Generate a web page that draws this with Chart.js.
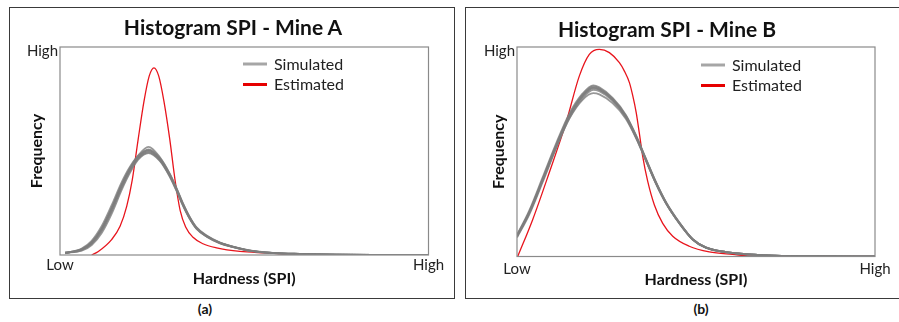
<!DOCTYPE html>
<html>
<head>
<meta charset="utf-8">
<script src="https://cdn.jsdelivr.net/npm/chart.js@4/dist/chart.umd.min.js"></script>
<style>
  html, body { margin: 0; padding: 0; background: #fff; }
  body { width: 899px; height: 322px; position: relative; overflow: hidden; font-family: Lato, "Open Sans", sans-serif; }
  .panel { position: absolute; border: 1.5px solid #3a3a3a; box-sizing: border-box; }
  .panel canvas { position: absolute; left: 0; top: 0; }
  .title { position: absolute; font-weight: bold; font-size: 21px; line-height: 1; color: #111; white-space: nowrap; transform: translateX(-50%); }
  .cap { position: absolute; font-weight: bold; font-size: 14px; color: #111; transform: translateX(-50%); }
</style>
</head>
<body>
<div class="panel" id="pa" style="left:9px;top:7px;width:446px;height:292px;"><canvas id="ca"></canvas></div>
<div class="panel" id="pb" style="left:465px;top:7px;width:436px;height:292px;"><canvas id="cb"></canvas></div>
<div class="title" style="left:233px;top:16px;">Histogram SPI - Mine A</div>
<div class="title" style="left:667px;top:18px;">Histogram SPI - Mine B</div>
<div class="cap" style="left:205px;top:300px;">(a)</div>
<div class="cap" style="left:701px;top:300px;">(b)</div>
<script>
// Hardness axis runs 0 (Low) .. 100 (High); frequency 0 .. 1 (High)
const xTickLabels = ['Low', 'High'];
const yTickLabels = ['High'];

// Mine A – simulated realisations (shared hardness positions)
const simXA = [1.4, 5.9, 8.6, 11.3, 14.0, 16.7, 19.0, 21.2, 24.0, 27.1, 29.8, 31.6, 33.4, 35.2, 37.0, 39.8, 43.4, 47.0, 51.5, 57.8, 65, 75, 85, 100];
const simA1 = [0.010, 0.026, 0.058, 0.122, 0.218, 0.330, 0.410, 0.467, 0.500, 0.459, 0.382, 0.315, 0.241, 0.178, 0.130, 0.090, 0.058, 0.039, 0.021, 0.010, 0.005, 0.001, 0, 0];
const simA2 = [0.008, 0.031, 0.068, 0.138, 0.238, 0.348, 0.424, 0.476, 0.508, 0.466, 0.389, 0.322, 0.247, 0.183, 0.134, 0.093, 0.060, 0.040, 0.022, 0.010, 0.005, 0.001, 0, 0];
const simA3 = [0.012, 0.021, 0.048, 0.106, 0.198, 0.312, 0.396, 0.458, 0.490, 0.452, 0.376, 0.309, 0.236, 0.174, 0.127, 0.088, 0.056, 0.038, 0.020, 0.009, 0.004, 0.001, 0, 0];
const simA4 = [0.010, 0.028, 0.062, 0.128, 0.226, 0.338, 0.418, 0.478, 0.520, 0.470, 0.390, 0.320, 0.244, 0.180, 0.131, 0.091, 0.059, 0.039, 0.021, 0.010, 0.005, 0.001, 0, 0];
const simA5 = [0.009, 0.024, 0.054, 0.116, 0.210, 0.322, 0.404, 0.463, 0.494, 0.455, 0.379, 0.312, 0.239, 0.176, 0.128, 0.089, 0.057, 0.038, 0.020, 0.009, 0.004, 0.001, 0, 0];
const simA6 = [0.011, 0.027, 0.060, 0.125, 0.222, 0.334, 0.413, 0.470, 0.504, 0.462, 0.385, 0.318, 0.243, 0.179, 0.131, 0.091, 0.058, 0.039, 0.021, 0.010, 0.005, 0.001, 0, 0];
// Mine A – estimated
const estXA = [8.6, 10.4, 14.0, 16.3, 18.1, 19.6, 21.2, 22.8, 24.2, 25.5, 26.8, 28.2, 29.8, 31.2, 32.6, 34.1, 36.1, 38.8, 42.5, 48.8, 56, 65, 78, 100];
const estA  = [0, 0.017, 0.074, 0.138, 0.234, 0.360, 0.555, 0.740, 0.860, 0.900, 0.860, 0.740, 0.555, 0.363, 0.215, 0.135, 0.085, 0.054, 0.034, 0.017, 0.010, 0.001, 0, 0];

// Mine B – simulated realisations
const simXB = [0, 3.4, 7.2, 10.9, 14.6, 18.3, 21.3, 23.0, 26.7, 30.4, 33.2, 36.0, 38.8, 41.6, 45.3, 49.1, 52.8, 58.4, 64.9, 72, 83.5, 100];
const simB1 = [0.097, 0.209, 0.368, 0.527, 0.670, 0.766, 0.806, 0.798, 0.750, 0.670, 0.575, 0.463, 0.352, 0.257, 0.161, 0.081, 0.042, 0.021, 0.010, 0.004, 0.001, 0];
const simB2 = [0.103, 0.218, 0.379, 0.538, 0.681, 0.777, 0.817, 0.807, 0.757, 0.676, 0.580, 0.467, 0.356, 0.260, 0.163, 0.082, 0.043, 0.021, 0.010, 0.004, 0.001, 0];
const simB3 = [0.091, 0.200, 0.357, 0.516, 0.660, 0.756, 0.796, 0.789, 0.743, 0.664, 0.570, 0.459, 0.348, 0.254, 0.159, 0.080, 0.041, 0.020, 0.009, 0.004, 0.001, 0];
const simB4 = [0.098, 0.208, 0.364, 0.520, 0.658, 0.748, 0.780, 0.774, 0.732, 0.658, 0.568, 0.459, 0.350, 0.256, 0.161, 0.082, 0.042, 0.021, 0.010, 0.004, 0.001, 0];
const simB5 = [0.095, 0.206, 0.366, 0.525, 0.668, 0.765, 0.804, 0.796, 0.748, 0.668, 0.573, 0.462, 0.351, 0.256, 0.160, 0.081, 0.042, 0.021, 0.010, 0.004, 0.001, 0];
const simB6 = [0.100, 0.212, 0.371, 0.530, 0.674, 0.772, 0.812, 0.803, 0.753, 0.672, 0.577, 0.465, 0.354, 0.258, 0.162, 0.082, 0.042, 0.021, 0.010, 0.004, 0.001, 0];
// Mine B – estimated
const estXB = [0.2, 4.4, 9.0, 13.7, 17.4, 20.2, 23.0, 25.8, 28.6, 30.0, 31.4, 32.3, 33.3, 34.2, 35.1, 36.5, 38.4, 40.7, 43.5, 48.1, 53.7, 60.2, 66.8, 80, 100];
const estB  = [0, 0.177, 0.400, 0.639, 0.861, 0.965, 0.989, 0.973, 0.925, 0.885, 0.830, 0.770, 0.687, 0.585, 0.479, 0.360, 0.245, 0.158, 0.097, 0.049, 0.022, 0.010, 0.001, 0, 0];

const GRAY = 'rgba(125,125,125,0.8)';
const RED = '#e8141c';
const FONT = 'Lato, "Open Sans", sans-serif';

function pts(xs, ys) { return xs.map((x, i) => ({ x: x, y: ys[i] })); }

function simSet(xs, ys) {
  return { label: 'Simulated', data: pts(xs, ys), borderColor: GRAY, borderWidth: 1.9,
           pointRadius: 0, cubicInterpolationMode: 'monotone', fill: false };
}
function estSet(xs, ys) {
  return { label: 'Estimated', data: pts(xs, ys), borderColor: RED, borderWidth: 1.3,
           pointRadius: 0, cubicInterpolationMode: 'monotone', fill: false };
}

// frame around the plot area and a two-entry legend
const framePlugin = {
  id: 'frame',
  afterDraw(chart, args, opts) {
    const { ctx, chartArea: a } = chart;
    ctx.save();
    ctx.strokeStyle = '#8a8a8a';
    ctx.lineWidth = 1.2;
    ctx.strokeRect(a.left, a.top, a.right - a.left, a.bottom - a.top);
    const entries = [['Simulated', '#a6a6a6'], ['Estimated', '#e60000']];
    ctx.font = '16px ' + FONT;
    ctx.textBaseline = 'middle';
    entries.forEach((e, i) => {
      const y = a.top + opts.dy + i * 20.5;
      const x = a.left + opts.dx;
      ctx.strokeStyle = e[1];
      ctx.lineWidth = 3;
      ctx.beginPath(); ctx.moveTo(x, y); ctx.lineTo(x + 24, y); ctx.stroke();
      ctx.fillStyle = '#222';
      ctx.fillText(e[0], x + 31, y + 0.5);
    });
    ctx.restore();
  }
};

function makeChart(id, datasets, geo) {
  const c = document.getElementById(id);
  c.width = geo.w; c.height = geo.h;
  c.style.width = geo.w + 'px'; c.style.height = geo.h + 'px';
  return new Chart(c, {
    type: 'line',
    data: { datasets: datasets },
    plugins: [framePlugin],
    options: {
      responsive: false, animation: false, devicePixelRatio: 1,
      layout: { padding: { top: geo.top, right: geo.right, left: 0, bottom: 0 } },
      plugins: { legend: { display: false }, tooltip: { enabled: false },
                 frame: { dx: geo.legDx, dy: geo.legDy } },
      scales: {
        x: {
          type: 'linear', min: 0, max: 100,
          grid: { display: false, drawTicks: false }, border: { display: false },
          afterBuildTicks: s => { s.ticks = [{ value: 0 }, { value: 100 }]; },
          afterFit: s => { s.height = geo.xH; },
          ticks: { padding: geo.xPad, color: '#222', font: { family: FONT, size: 15 },
                   maxRotation: 0, autoSkip: false,
                   callback: (v) => v === 0 ? xTickLabels[0] : xTickLabels[1] },
          title: { display: true, text: 'Hardness (SPI)', color: '#111',
                   font: { family: FONT, size: 16, weight: 'bold' },
                   padding: { top: 0, bottom: geo.xTitlePad } }
        },
        y: {
          min: 0, max: 1,
          grid: { display: false, drawTicks: false }, border: { display: false },
          afterBuildTicks: s => { s.ticks = [{ value: 1 }]; },
          afterFit: s => { s.width = geo.yW; },
          ticks: { padding: 2, labelOffset: 4, color: '#222', font: { family: FONT, size: 15 },
                   callback: () => yTickLabels[0] },
          title: { display: true, text: 'Frequency', color: '#111',
                   font: { family: FONT, size: 16, weight: 'bold' },
                   padding: { top: geo.yTitlePad, bottom: 0 } }
        }
      }
    }
  });
}

// panel A: canvas origin at (10.5, 8.5) page
makeChart('ca', [simSet(simXA, simA1), simSet(simXA, simA2), simSet(simXA, simA3),
                 simSet(simXA, simA4), simSet(simXA, simA5), simSet(simXA, simA6),
                 estSet(estXA, estA)],
  { w: 443, h: 289, top: 39, right: 24.5, yW: 50, xH: 42, xPad: 1, xTitlePad: 9,
    yTitlePad: 17, legDx: 183, legDy: 17 });

// panel B: canvas origin at (466.5, 8.5)
makeChart('cb', [simSet(simXB, simB1), simSet(simXB, simB2), simSet(simXB, simB3),
                 simSet(simXB, simB4), simSet(simXB, simB5), simSet(simXB, simB6),
                 estSet(estXB, estB)],
  { w: 433, h: 289, top: 39, right: 24, yW: 51, xH: 40.5, xPad: 4, xTitlePad: 8,
    yTitlePad: 23, legDx: 184, legDy: 18 });
</script>
</body>
</html>
